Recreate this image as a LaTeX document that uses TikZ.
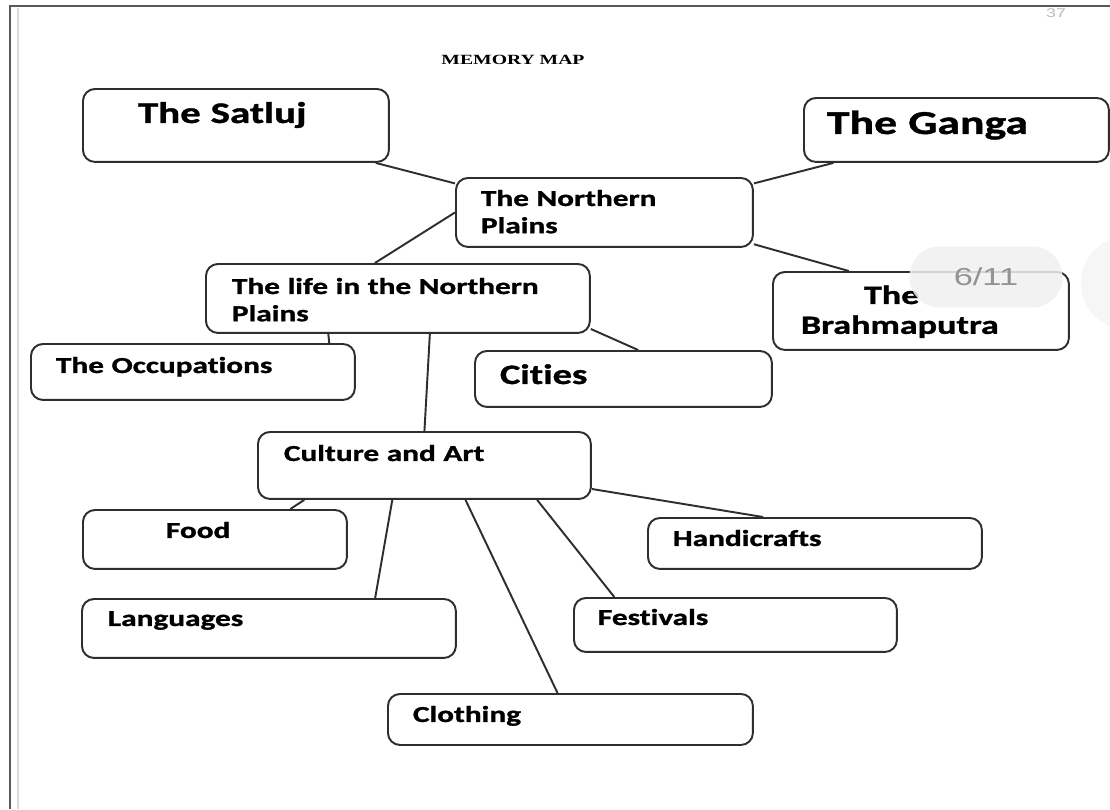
\documentclass[tikz,border=0pt]{standalone}
\usepackage{fontspec}
\usepackage{xcolor}
\newfontfamily\mapfont{Carlito}[FakeStretch=1.37,Ligatures=NoCommon,BoldFeatures={FakeBold=1.2}]
\newfontfamily\titlefont{Liberation Serif}[FakeStretch=1.4]
\newfontfamily\pagefont{Liberation Sans}[FakeStretch=1.4]
\definecolor{linegray}{HTML}{2E2E2E}

\begin{document}
\begin{tikzpicture}[x=0.02cm, y=-0.02cm, line width=1.1pt,
                    main box/.style={draw=linegray,fill=white,rounded corners=0.24cm,anchor=north west,
                                     align=left,inner ysep=0pt,font=\mapfont\bfseries\fontsize{13}{15.5}\selectfont},
                    pad/.style n args={4}{inner xsep=#1cm,text width=#2cm,text height=#3cm,text depth=#4cm},
                    pill/.style={fill=gray!12,fill opacity=0.85,text opacity=1,text=gray!85,rounded corners=0.6cm,
                                 minimum width=3.06cm,minimum height=1.22cm,font=\pagefont\fontsize{14}{14}\selectfont}]
      \useasboundingbox (0,0) rectangle (1110,809);

      % page frame
      \draw[gray!70!black, line width=0.6pt] (10,809) -- (10,6) -- (1110,6);
      \draw[gray!30, line width=1.6pt] (18,809) -- (18,8);
      \node[text=gray!55, font=\pagefont\fontsize{7.2}{8}\selectfont] (pagenum) at (1056,13) {37};
      \node[anchor=base, font=\titlefont\bfseries\fontsize{8}{9}\selectfont] (title) at (513,64) {MEMORY MAP};

      \node[main box, pad={1.10}{3.92}{.68}{.78}, font=\mapfont\bfseries\fontsize{17}{20}\selectfont] (satluj) at (82,88) {The Satluj};
      \node[main box, pad={.46}{5.18}{.72}{.56}, font=\mapfont\bfseries\fontsize{19}{22}\selectfont] (ganga) at (803,97) {The Ganga};
      \node[main box, pad={.50}{4.94}{.56}{.82}] (np) at (455,177) {The Northern\\Plains};
      \node[main box, pad={.52}{6.64}{.60}{.78}] (life) at (205,263) {The life in the Northern\\Plains};
      \node[main box, pad={.56}{4.80}{.64}{.92}, font=\mapfont\bfseries\fontsize{15}{17}\selectfont] (brahma) at (772,271) {\hspace*{1.26cm}The\\Brahmaputra};
      \node[main box, pad={.50}{5.48}{.58}{.54}] (occ) at (30,343) {The Occupations};
      \node[main box, pad={.50}{4.94}{.66}{.46}, font=\mapfont\bfseries\fontsize{16}{19}\selectfont] (cities) at (474,350) {Cities};
      \node[main box, pad={.52}{5.62}{.58}{.76}] (culture) at (257,431) {Culture and Art};
      \node[main box, pad={1.66}{1.96}{.56}{.62}] (food) at (82,509) {Food};
      \node[main box, pad={.50}{5.68}{.56}{.46}] (handi) at (647,517) {Handicrafts};
      \node[main box, pad={.48}{5.50}{.54}{.54}] (fest) at (573,597) {Festivals};
      \node[main box, pad={.52}{6.44}{.54}{.64}] (lang) at (81,598) {Languages};
      \node[main box, pad={.50}{6.30}{.56}{.46}] (cloth) at (387,693) {Clothing};

      \path[draw=linegray]
	(np.169) edge (satluj.-15)
	(np.11) edge (ganga.-165)
	(np.-12) edge (brahma.151)
	(np.180) edge (life.123);
      \path[draw=linegray]
	(life.-153) edge (occ.12)
	(life.-9) edge (cities.63)
	(life.-48) edge (culture.north);
      \path[draw=linegray]
	(culture.-164) edge (food.22)
	(culture.-133) edge (lang.16)
	(culture.-40) edge (cloth.116)
	(culture.-17) edge (fest.167)
	(culture.-8) edge (handi.153);

      % viewer overlay
      \node[pill] (pager) at (986,277) {6/11};
      \fill[gray!7] (1128,283) circle [radius=0.94cm];
\end{tikzpicture}
\end{document}
